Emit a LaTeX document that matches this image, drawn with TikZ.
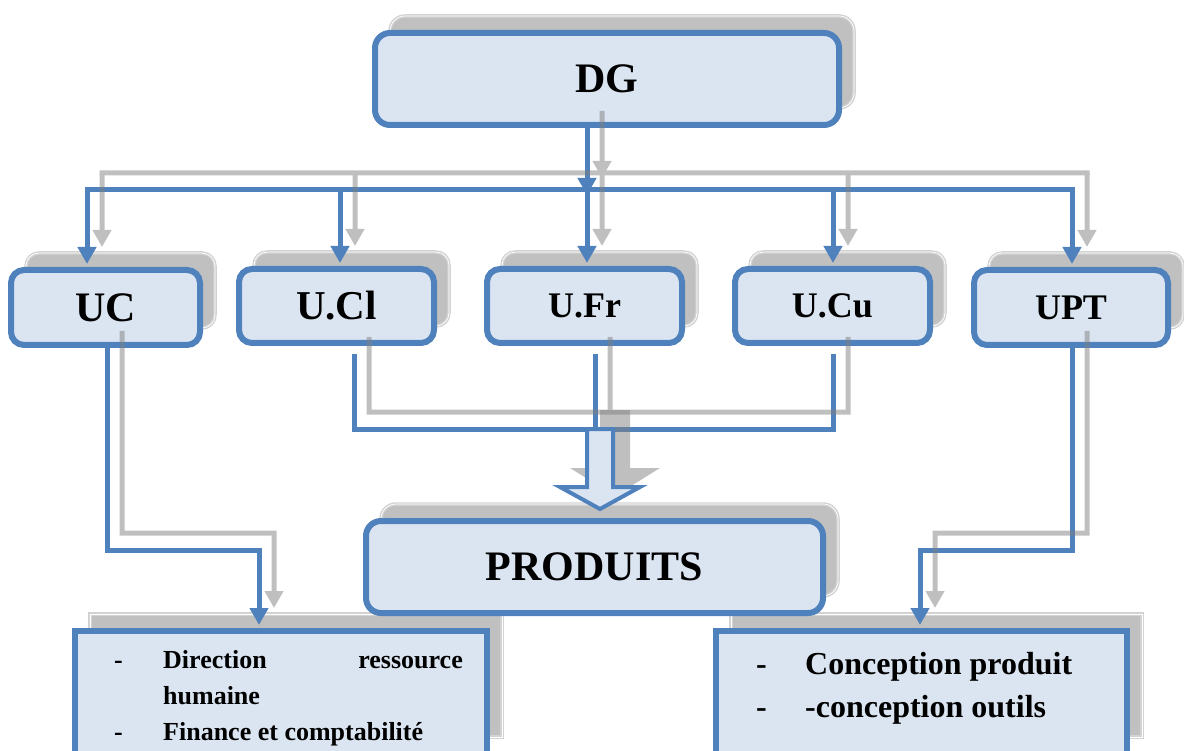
\documentclass[tikz,border=0pt]{standalone}
\usepackage{fontspec}
\setmainfont{Liberation Serif}
\usetikzlibrary{arrows.meta,shadows}
\definecolor{bblue}{HTML}{4F81BD}
\definecolor{bfill}{HTML}{DBE5F1}
\definecolor{shgray}{HTML}{C0C0C0}
\definecolor{shrim}{HTML}{D2D2D2}
\definecolor{cgray}{HTML}{808080}
\colorlet{ccol}{bblue}
\tikzset{
  boxshadow/.style={general shadow={fill=shgray, draw=shrim, line width=1.4pt, double=white, double distance=0.7pt, shadow xshift=15pt, shadow yshift=17pt}},
  rbox/.style={boxshadow, draw=bblue, fill=bfill, line width=6pt, rounded corners=13pt, inner sep=0pt, font=\bfseries},
  sbox/.style={boxshadow, draw=bblue, fill=bfill, line width=6pt, inner sep=0pt},
  conn/.style={draw=ccol, line width=5pt},
  arr/.style={-{Triangle[width=18pt,length=17pt]}, shorten >=3pt},
  lt/.style={inner sep=0pt, font=\bfseries\fontsize{26}{30}\selectfont},
  rt/.style={inner sep=0pt, font=\bfseries\fontsize{32}{36}\selectfont},
}
\newcommand\drawconns{%
  \draw[conn,arr] ([xshift=-20pt]dg.south) -- (dgT);
  \draw[conn,line cap=rect] (tUC) -- (tUPT);
  \draw[conn,arr] (tUC) -- (tUC |- uc.north);
  \draw[conn,arr] (tUCl) -- (tUCl |- ucl.north);
  \draw[conn,arr] (tUFr) -- (tUFr |- ufr.north);
  \draw[conn,arr] (tUCu) -- (tUCu |- ucu.north);
  \draw[conn,arr] (tUPT) -- (tUPT |- upt.north);
  \draw[conn,arr] ([xshift=1.5pt]uc.south) |- (kL) -- (kL |- lb.north);
  \draw[conn,arr] ([xshift=1pt]upt.south) |- (kR) -- (kR |- rb.north);
  \draw[conn,shorten <=8pt,shorten >=8pt] ([xshift=17.5pt]ucl.south) |- (kM) -| ([xshift=0.5pt]ucu.south);
  \draw[conn,shorten <=8pt] ([xshift=10.5pt]ufr.south) -- (kM);
}
\begin{document}
\begin{tikzpicture}[x=1pt,y=-1pt]
\useasboundingbox (0,0) rectangle (1184,751);
\clip (0,0) rectangle (1184,751);

% boxes
\node[rbox, rounded corners=15pt, minimum width=464pt, minimum height=92pt, font=\bfseries\fontsize{42}{48}\selectfont] (dg) at (607,79) {DG};
\node[rbox, minimum width=189pt, minimum height=75pt, font=\bfseries\fontsize{42}{48}\selectfont] (uc) at (105.5,307.5) {UC};
\node[rbox, minimum width=195pt, minimum height=74pt, font=\bfseries\fontsize{41}{48}\selectfont] (ucl) at (336.5,306) {U.Cl};
\node[rbox, minimum width=195pt, minimum height=74pt, font=\bfseries\fontsize{36}{42}\selectfont] (ufr) at (584.5,306) {U.Fr};
\node[rbox, minimum width=195pt, minimum height=74pt, font=\bfseries\fontsize{36}{42}\selectfont] (ucu) at (832.5,306) {U.Cu};
\node[rbox, minimum width=194pt, minimum height=75pt, font=\bfseries\fontsize{36}{42}\selectfont] (upt) at (1071,307.5) {UPT};
\node[sbox, minimum width=412pt, minimum height=123pt] (lb) at (281,692.5) {};
\node[sbox, minimum width=411pt, minimum height=123pt] (rb) at (921.5,692.5) {};
\node[rbox, rounded corners=15pt, minimum width=457pt, minimum height=92pt, font=\bfseries\fontsize{42}{48}\selectfont] (prod) at (594.5,567) {PRODUITS};

% connector points
\coordinate (dgT) at (587,198);
\coordinate (tUC) at (87,190);
\coordinate (tUCl) at (340,190);
\coordinate (tUFr) at (587,190);
\coordinate (tUCu) at (833,190);
\coordinate (tUPT) at (1072,190);
\coordinate (kL) at (259,550);
\coordinate (kR) at (920,550);
\coordinate (kM) at (595,429);

% blue connectors
\drawconns

% gray connector shadows
\begin{scope}[transform canvas={shift={(15pt,17pt)}}]
  \begin{scope}[transparency group, opacity=0.5]
    \colorlet{ccol}{cgray}
    \path (0,0) rectangle (1184,751);
    \drawconns
  \end{scope}
\end{scope}

% big arrow to PRODUITS
\fill[cgray, opacity=0.5, shift={(15,-17)}] (585,427) -- (615,427) -- (615,485) -- (645,485) -- (600,513) -- (555,485) -- (585,485) -- cycle;
\draw[draw=bblue, fill=bfill, line width=4pt] (587,429) -- (613,429) -- (613,487) -- (640,487) -- (600,509) -- (560,487) -- (587,487) -- cycle;

% left box text
\node[lt, anchor=base west] at (114,668) {-};
\node[lt, anchor=base west] at (163,668) {Direction};
\node[lt, anchor=base east] at (463,668) {ressource};
\node[lt, anchor=base west] at (163,704) {humaine};
\node[lt, anchor=base west] at (114,740) {-};
\node[lt, anchor=base west] at (163,740) {Finance et comptabilité};

% right box text
\node[rt, anchor=base west] at (756,674) {-};
\node[rt, anchor=base west] at (805,674) {Conception produit};
\node[rt, anchor=base west] at (756,717) {-};
\node[rt, anchor=base west] at (805,717) {-conception outils};
\end{tikzpicture}
\end{document}
